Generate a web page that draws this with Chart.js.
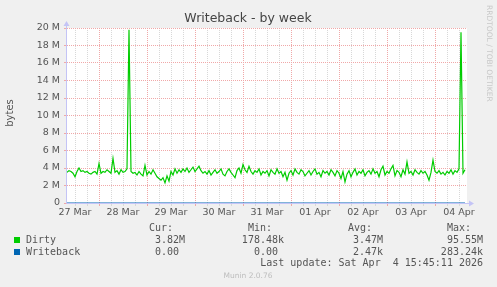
<!DOCTYPE html>
<html>
<head>
<meta charset="utf-8">
<script src="https://cdn.jsdelivr.net/npm/chart.js@4"></script>
<style>
  html, body { margin: 0; padding: 0; background: #f0f0f0; }
  canvas { display: block; }
</style>
</head>
<body>
<canvas id="myChart" width="497" height="287"></canvas>
<script>
// hours counted from 27 Mar 00:00, one Dirty value per hour starting at 08:00
const startHour = 8;
const endHour = 208;
const dirty = [
  3.5, 3.7, 3.6, 3.4, 3.0, 3.6, 4.0, 3.6, 3.7, 3.5,
  3.6, 3.4, 3.3, 3.5, 3.6, 3.3, 4.5, 3.4, 3.6, 3.5,
  3.8, 3.6, 3.4, 5.1, 3.5, 3.7, 3.3, 3.8, 3.5, 3.6,
  3.9, 19.8, 3.6, 3.4, 3.5, 3.2, 3.6, 3.3, 3.1, 4.3,
  3.2, 3.6, 3.3, 3.8, 3.4, 3.0, 2.8, 2.6, 2.9, 2.3,
  3.1, 2.5, 3.6, 3.2, 3.9, 3.4, 3.8, 3.5, 3.9, 3.6,
  4.0, 3.5, 3.8, 4.1, 3.6, 3.9, 4.2, 3.7, 3.4, 3.6,
  3.3, 3.7, 3.2, 3.5, 3.8, 3.4, 3.6, 3.9, 3.3, 3.1,
  3.6, 3.9, 3.5, 3.2, 2.9, 3.7, 4.0, 3.4, 4.4, 3.8,
  3.5, 4.2, 3.6, 3.3, 3.7, 3.5, 3.9, 3.2, 3.6, 3.4,
  3.7, 3.1, 3.8, 3.5, 3.3, 3.9, 3.4, 3.6, 3.0, 3.5,
  2.6, 3.4, 3.7, 3.2, 3.9, 3.5, 3.3, 3.8, 3.6, 3.1,
  3.4, 3.7, 3.2, 3.6, 3.9, 3.3, 3.5, 3.0, 3.7, 3.4,
  3.6, 3.2, 3.8, 3.5, 3.1, 3.7, 3.4, 2.8, 3.6, 2.4,
  3.3, 3.7, 3.0, 3.5, 3.9, 3.2, 3.6, 3.4, 3.8, 3.1,
  3.5, 3.7, 3.3, 3.9, 3.4, 3.6, 3.0, 3.8, 4.2, 3.2,
  3.6, 3.4, 3.9, 4.3, 3.1, 3.7, 3.5, 3.0, 3.8, 3.3,
  4.7, 3.4, 3.6, 3.2, 3.8, 3.5, 3.3, 3.7, 3.4, 3.6,
  3.2, 2.6, 3.5, 4.9, 3.6, 3.4, 3.7, 3.3, 3.5, 3.2,
  3.6, 3.4, 3.8, 3.3, 3.7, 3.5, 3.9, 19.5, 3.4, 3.8
];
const writebackHours = [8, 207];
const writeback = [0, 0];

const dayLabels = ['27 Mar', '28 Mar', '29 Mar', '30 Mar', '31 Mar', '01 Apr', '02 Apr', '03 Apr', '04 Apr'];
const xGridHours = [];
for (let h = 12; h < endHour; h += 6) xGridHours.push(h);
const yGrid = [];
for (let v = 0; v <= 20; v++) yGrid.push(v);

const legendNames = ['Dirty', 'Writeback'];
const legendColors = ['#00cc00', '#0066b3'];
const curVals = ['3.82M', '0.00 '];
const minVals = ['178.48k', '0.00 '];
const avgVals = ['3.47M', '2.47k'];
const maxVals = ['95.55M', '283.24k'];

const majorGrid = '#f0a8a8';
const minorGrid = '#d8d8d8';
const axisColor = '#c4c4f6';
const textColor = '#555';
const mono = '10px "DejaVu Sans Mono"';

const munin = {
  id: 'munin',
  beforeDraw(chart) {
    const c = chart.ctx, a = chart.chartArea;
    c.save();
    c.fillStyle = '#f0f0f0';
    c.fillRect(0, 0, chart.width, chart.height);
    c.fillStyle = '#ffffff';
    c.fillRect(a.left, a.top, a.right - a.left, a.bottom - a.top);
    c.restore();
  },
  afterDatasetsDraw(chart) {
    const c = chart.ctx, a = chart.chartArea;
    c.save();
    // axes with arrows
    c.strokeStyle = axisColor;
    c.fillStyle = axisColor;
    c.lineWidth = 1;
    c.beginPath();
    c.moveTo(a.left - 0.5, a.bottom + 0.5);
    c.lineTo(a.right + 3, a.bottom + 0.5);
    c.moveTo(a.left - 0.5, a.bottom + 0.5);
    c.lineTo(a.left - 0.5, a.top - 3);
    c.stroke();
    c.beginPath();
    c.moveTo(a.right + 7, a.bottom + 0.5);
    c.lineTo(a.right + 2, a.bottom - 2.5);
    c.lineTo(a.right + 2, a.bottom + 3.5);
    c.fill();
    c.beginPath();
    c.moveTo(a.left - 0.5, a.top - 7);
    c.lineTo(a.left - 3.5, a.top - 2);
    c.lineTo(a.left + 2.5, a.top - 2);
    c.fill();

    // title
    c.fillStyle = '#444';
    c.font = '12.5px "DejaVu Sans"';
    c.textAlign = 'center';
    c.textBaseline = 'middle';
    c.fillText('Writeback - by week', 248, 19);

    // y axis title
    c.save();
    c.translate(10, 113);
    c.rotate(-Math.PI / 2);
    c.fillStyle = textColor;
    c.font = '10px "DejaVu Sans"';
    c.fillText('bytes', 0, 0);
    c.restore();

    // watermark
    c.save();
    c.translate(489, 5);
    c.rotate(Math.PI / 2);
    c.fillStyle = '#c8c8c8';
    c.font = '7.5px "DejaVu Sans"';
    c.textAlign = 'left';
    c.fillText('RRDTOOL / TOBI OETIKER', 0, 0);
    c.restore();

    // legend table
    c.font = mono;
    c.fillStyle = textColor;
    c.textAlign = 'left';
    c.fillText('Cur:', 149, 228);
    c.fillText('Min:', 248, 228);
    c.fillText('Avg:', 348, 228);
    c.fillText('Max:', 447, 228);
    legendNames.forEach((name, i) => {
      const y = 240 + i * 12;
      c.fillStyle = legendColors[i];
      c.fillRect(14, y - 3, 6, 6);
      c.fillStyle = textColor;
      c.textAlign = 'left';
      c.fillText(name, 26, y);
      c.textAlign = 'right';
      c.fillText(curVals[i], 185, y);
      c.fillText(minVals[i], 284, y);
      c.fillText(avgVals[i], 383, y);
      c.fillText(maxVals[i], 483, y);
    });
    c.textAlign = 'right';
    c.fillText('Last update: Sat Apr  4 15:45:11 2026', 483, 263);

    c.textAlign = 'center';
    c.fillStyle = '#bdbdbd';
    c.font = '7.5px "DejaVu Sans"';
    c.fillText('Munin 2.0.76', 248, 276);
    c.restore();
  }
};

const ctx = document.getElementById('myChart').getContext('2d');
const chart = new Chart(ctx, {
  type: 'line',
  data: {
    datasets: [
      {
        label: 'Dirty',
        data: dirty.map((v, i) => ({ x: startHour + i, y: v })),
        borderColor: '#00cc00',
        borderWidth: 1.2,
        pointRadius: 0,
        tension: 0
      },
      {
        label: 'Writeback',
        data: writeback.map((v, i) => ({ x: writebackHours[i], y: v })),
        borderColor: '#0066b3',
        borderWidth: 1,
        pointRadius: 0,
        tension: 0
      }
    ]
  },
  options: {
    responsive: false,
    animation: false,
    events: [],
    layout: { padding: { top: 28, right: 30, left: 0, bottom: 0 } },
    plugins: { legend: { display: false }, tooltip: { enabled: false } },
    scales: {
      x: {
        type: 'linear',
        min: startHour,
        max: endHour,
        afterBuildTicks: s => { s.ticks = xGridHours.map(v => ({ value: v })); },
        afterFit: s => { s.height = 84; },
        grid: {
          color: c => (c.tick && c.tick.value % 24 === 0) ? majorGrid : minorGrid,
          tickLength: 3,
          lineWidth: 1
        },
        border: { display: false, dash: [1, 1] },
        ticks: {
          autoSkip: false,
          maxRotation: 0,
          padding: 1,
          color: textColor,
          font: { family: 'DejaVu Sans', size: 9.5 },
          callback: v => v % 24 === 12 ? dayLabels[(v - 12) / 24] : ''
        }
      },
      y: {
        min: 0,
        max: 20,
        afterBuildTicks: s => { s.ticks = yGrid.map(v => ({ value: v })); },
        afterFit: s => { s.width = 67; },
        grid: {
          color: c => (c.tick && c.tick.value % 2 === 0) ? majorGrid : minorGrid,
          tickLength: 3,
          lineWidth: 1
        },
        border: { display: false, dash: [1, 1] },
        ticks: {
          padding: 4,
          color: textColor,
          font: { family: 'DejaVu Sans', size: 9.5 },
          callback: v => v % 2 ? '' : (v === 0 ? '0' : v + ' M')
        }
      }
    }
  },
  plugins: [munin]
});
</script>
</body>
</html>
